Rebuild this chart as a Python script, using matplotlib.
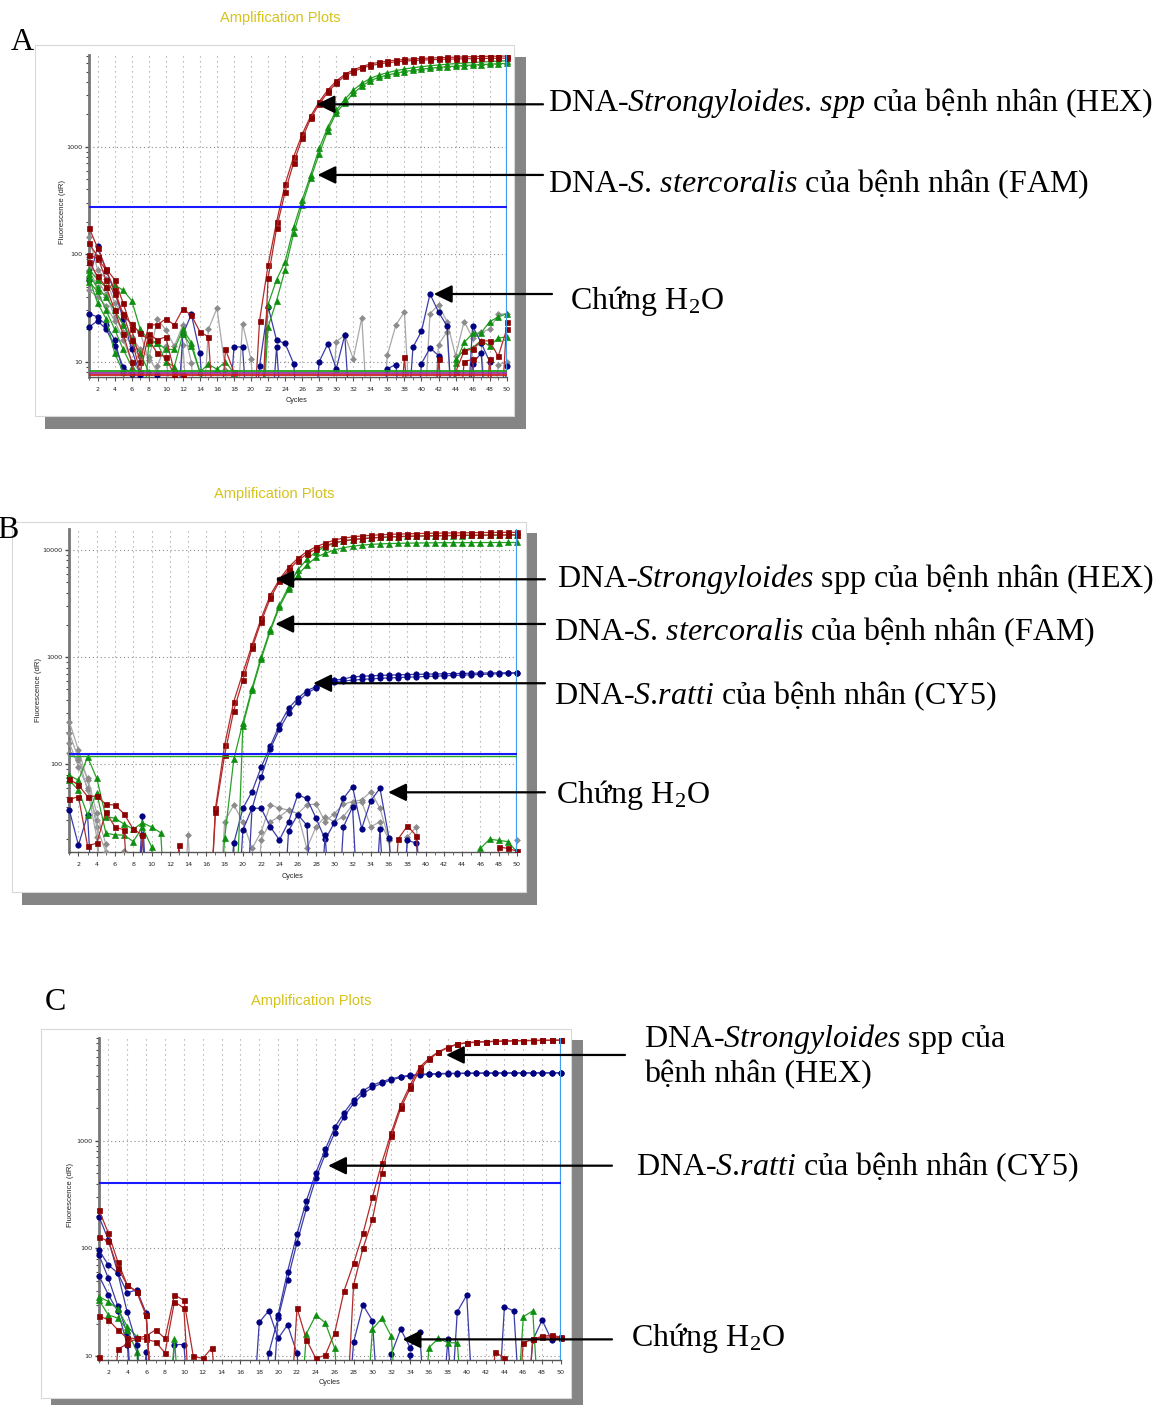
import numpy as np
import matplotlib
matplotlib.use("Agg")
import matplotlib.pyplot as plt
from matplotlib.patches import Rectangle
from matplotlib.ticker import LogLocator, NullFormatter, FixedLocator, FixedFormatter

plt.rcParams['mathtext.fontset'] = 'custom'
plt.rcParams['mathtext.rm'] = 'Liberation Serif'
plt.rcParams['mathtext.it'] = 'Liberation Serif:italic'
plt.rcParams['mathtext.bf'] = 'Liberation Serif:bold'

N = None  # point below the plotted range

CYCLES = list(range(1, 51))

# ---------------- Panel A ----------------
A_THRESHOLD = 273
A_BASELINES = [8.2, 7.8, 7.5]
A_HEX_1 = [176, 114, 73, 58, 35, 20, 10, 22, 22, 25,
           22, 31, 27, 19, 17, N, 13, 8, N, N,
           24, 79, 200, 447, 807, 1303, 1929, 2620, 3365, 4085,
           4710, 5170, 5560, 5880, 6090, 6260, 6380, 6480, 6560, 6620,
           6680, 6730, 6770, 6810, 6850, 6880, 6910, 6930, 6950, 6970]
A_HEX_2 = [126, 95, 57, 43, 28, 16, 8, 18, 16, 17,
           8, 7.5, N, N, N, N, N, N, N, N,
           N, 60, 174, 381, 710, 1196, 1834, 2500, 3200, 3900,
           4540, 4990, 5370, 5670, 5880, 6040, 6150, 6250, 6330, 6390,
           6440, 6480, 6520, 6550, 6580, 6600, 6620, 6640, 6650, 6660]
A_FAM_1 = [72, 58, 49, 52, 46, 37, 20, 16, 15, 13,
           13, 20, 15, 8, 9.5, 8.5, 10, 7.8, N, N,
           N, 34, 58, 85, 178, 319, 545, 964, 1512, 2190,
           2750, 3365, 3880, 4320, 4640, 4880, 5100, 5280, 5430, 5550,
           5660, 5760, 5850, 5930, 6000, 6070, 6130, 6190, 6250, 6310]
A_FAM_2 = [60, 35, 25, 12, 8, N, N, 15, 15, 10,
           9, 18, 14, 8, N, N, N, N, N, N,
           N, 21, 37, 72, 156, 288, 508, 860, 1409, 2070,
           2560, 3130, 3660, 4110, 4420, 4640, 4830, 5000, 5140, 5260,
           5370, 5460, 5550, 5620, 5690, 5750, 5810, 5860, 5910, 5960]
A_H2O_HEX_1 = [98, 91, 71, 46.5, 27, 22.5, 18.3, 16, 12, 11,
               7.5, N, N, N, N, N, N, N, N, N,
               N, N, N, N, N, N, N, N, N, N,
               N, N, N, N, N, N, N, 11, N, N,
               N, 10.5, N, 8, 12.5, 13.2, 15.6, 15.6, 11.2, 20]
A_H2O_HEX_2 = [85, 62, 50, 30, 18, 10, N, N, N, N,
               N, N, N, N, N, N, N, N, N, N,
               N, N, N, N, N, N, N, N, N, N,
               N, N, N, N, N, N, N, N, N, N,
               N, N, N, N, 10, 10.5, N, 10.5, N, 23.6]
A_H2O_FAM_1 = [65, 48, 40, 30, 22, 16, 12, 8, N, N,
               N, N, N, N, N, N, N, N, N, N,
               N, N, N, N, N, N, N, N, N, N,
               N, N, N, N, N, N, N, N, N, N,
               N, N, N, 9.7, 15.1, 18.3, 18.5, 23.6, 26, 28]
A_H2O_FAM_2 = [55, 45, 30, 20, 13, 9, N, N, N, N,
               N, N, N, N, N, N, N, N, N, N,
               N, N, N, N, N, N, N, N, N, N,
               N, N, N, N, N, N, N, N, N, N,
               N, N, N, 10.5, 12.8, 13.5, 15.7, 14, 16.6, 17]
A_H2O_CY5_1 = [57, 119, 70, 45, 25, 13, 7.5, N, 7.5, N,
               N, 18, 27.5, 12, N, N, N, 13.7, 13.7, N,
               9.1, 32.5, 15.8, 14.8, 9.6, N, N, 10, 14.6, 8.6,
               17.7, N, N, N, N, 8.6, 9.4, N, 13.6, 19.2,
               42.6, 29, 21.4, N, N, 21.4, 15, 10, N, 9.1]
A_H2O_CY5_2 = [28, 26, 22, 16, 8, N, N, N, N, N,
               N, N, N, N, N, N, N, N, N, N,
               N, N, 13.8, N, N, N, N, N, N, N,
               N, N, N, N, N, N, N, N, N, 9.6,
               13.4, 11.4, N, N, N, 9.6, 12, N, N, N]
A_H2O_CY5_3 = [21, 24, 20, 14, 9, 7.6, N, N, N, N,
               N, N, N, N, N, N, N, N, N, N,
               N, N, N, N, N, N, N, N, N, N,
               N, N, N, N, N, N, N, N, N, N,
               N, N, N, N, N, N, N, N, N, N]
A_ROX_1 = [145, 71, 59, 35, 28, 22, 18.6, 10.4, 24.8, 19.8,
           13.9, 22, 9.8, N, 20, 31.4, 8.4, N, 22.6, 10.5,
           N, N, N, N, N, N, N, N, N, 15.3,
           17.7, 10.6, 25.7, N, N, 11.5, 22, 29, N, N,
           28, 33.6, 23.6, 11.3, 23.6, 16.7, 18.7, 20, 27.5, 28]
A_ROX_2 = [95, 57, 43, 26, 19, 14, 11, N, 9.2, 14,
           N, 14.4, N, N, N, N, N, N, N, N,
           N, N, N, N, N, N, N, N, N, N,
           N, N, N, N, N, N, N, N, N, N,
           N, 14.4, 19, N, N, 13, 15, N, 9.3, 10]
A_ROX_3 = [71, 50, 40, 30, 22, 17, 13, 11, 8, N,
           N, N, N, N, N, N, N, N, N, N,
           N, N, N, N, N, N, N, N, N, N,
           N, N, N, N, N, N, N, N, N, N,
           N, N, N, N, N, N, N, N, N, N]
A_ROX_4 = [46, 40, 33, 24, 16, 10, 8, N, N, N,
           N, N, N, N, N, N, N, N, N, N,
           N, N, N, N, N, N, N, N, N, N,
           N, N, N, N, N, N, N, N, N, N,
           N, N, N, N, N, N, N, N, N, N]

# ---------------- Panel B ----------------
B_THRESHOLD = 124
B_THRESHOLD_FAM = 119.5
B_HEX_1 = [73, 64, 50, 50.6, 42.3, 41.7, 34.4, 24.9, 21.9, N,
           N, N, 17.6, N, N, N, 38.8, 151, 385, 716,
           1300, 2300, 3800, 5320, 6890, 8360, 9650, 10740, 11540, 12400,
           12900, 13250, 13500, 13700, 13850, 13980, 14080, 14160, 14230, 14290,
           14340, 14390, 14430, 14470, 14510, 14540, 14570, 14590, 14610, 14620]
B_HEX_2 = [47, 50, 17.3, 18.4, 36, 26, 24.4, N, N, N,
           N, N, N, N, N, N, 36, 122, 317, 612,
           1210, 2150, 3540, 5100, 6500, 7950, 9180, 10220, 10960, 11700,
           12150, 12500, 12750, 12950, 13100, 13230, 13330, 13420, 13490, 13550,
           13600, 13640, 13680, 13710, 13740, 13760, 13780, 13790, 13800, 13800]
B_FAM_1 = [79, 71, 117, 74, 32.5, 31.4, 27.7, 24.8, 28.5, 26,
           23, N, N, N, N, N, N, 20.4, 111, 245,
           512, 1010, 1820, 3070, 4550, 6500, 8180, 9650, 10740, 11540,
           12140, 12500, 12750, 12950, 13100, 13220, 13320, 13400, 13460, 13510,
           13550, 13590, 13620, 13650, 13680, 13710, 13740, 13760, 13780, 13800]
B_FAM_2 = [71, 57.6, 33.7, 54, 22.9, 21.9, 21.9, 19, 26, 17,
           N, N, N, N, N, N, N, N, N, 230,
           490, 960, 1750, 2950, 4300, 5850, 7240, 8540, 9310, 10000,
           10500, 10850, 11100, 11280, 11400, 11480, 11540, 11590, 11620, 11650,
           11670, 11690, 11700, 11710, 11720, 11730, 11740, 11740, 11750, 11750]
B_CY5_1 = [37.5, 17.6, 33.7, N, N, N, N, N, 33, N,
           N, N, N, N, N, N, N, N, 18.3, 38.8,
           55.6, 94, 148, 233, 334, 412, 488, 530, 580, 612,
           625, 655, 662, 670, 675, 680, 684, 688, 691, 694,
           697, 700, 703, 705, 708, 710, 712, 714, 715, 716]
B_CY5_2 = [N, N, N, N, N, N, N, N, 21.9, N,
           N, N, N, N, N, N, N, N, N, 24.5,
           38.8, 76, 139, 213, 300, 385, 460, 515, 560, 590,
           600, 610, 620, 628, 635, 640, 645, 650, 655, 660,
           665, 670, 675, 680, 685, 690, 695, 700, 705, 710]
B_H2O_CY5_1 = [N, N, N, N, N, N, N, N, N, N,
               N, N, N, N, N, N, N, N, N, N,
               38.9, 38.9, 26.1, 19.7, 29.1, 51.8, 48, 31.5, 19.9, 28.3,
               48, 62, 25.1, 45.8, 59.8, 20.4, N, 19.5, 18.4, N,
               N, N, N, N, N, N, N, N, N, N]
B_H2O_CY5_2 = [N, N, N, N, N, N, N, N, N, N,
               N, N, N, N, N, N, N, N, N, N,
               N, N, N, N, 24, 34, 27, N, 22, N,
               26, 40, N, N, 25, N, N, N, N, N,
               N, N, N, N, N, N, N, N, N, N]
B_H2O_HEX_1 = [N, N, N, N, N, N, N, N, N, N,
               N, N, N, N, N, N, N, N, N, N,
               N, N, N, N, N, N, N, N, N, N,
               N, N, N, N, N, N, 20.1, 26.6, 21.5, N,
               N, N, N, N, N, N, N, 17, 16.4, 15.5]
B_H2O_FAM_1 = [N, N, N, N, N, N, N, N, N, N,
               N, N, N, N, N, N, N, N, N, N,
               N, N, N, N, N, N, N, N, N, N,
               N, N, N, N, N, N, N, N, N, N,
               N, N, N, N, N, 16.4, 20, 19.5, 19, 15.2]
B_ROX_1 = [250, 136, 71, 26, 15.3, N, N, N, N, N,
           N, N, N, 21.7, N, N, N, 29.1, 41.8, 29.1,
           16.4, 23.4, 41.8, 38.9, 37.5, 34.6, 41.8, 42.5, 29.1, 34.6,
           42.5, 44.9, 46.5, 55.6, 38.9, 19.7, N, 21, 26.1, N,
           N, N, N, N, N, N, N, N, N, 19.7]
B_ROX_2 = [196, 114, 57.6, 21, N, N, N, N, N, N,
           N, N, N, N, N, N, N, N, 19, N,
           N, 19.7, 29.1, 32.5, 37.5, 34.6, 16.4, 26.1, 32.5, 29.1,
           32.5, 41.8, 44.9, 26.1, 29.1, 19.7, N, N, N, N,
           N, N, N, N, N, N, N, N, N, N]
B_ROX_3 = [159, 95, 60, 30, N, N, 15.5, N, N, N,
           N, N, N, N, N, N, N, N, N, N,
           N, N, N, N, N, N, N, N, N, N,
           N, N, N, N, N, N, N, N, N, N,
           N, N, N, N, N, N, N, N, N, N]
B_ROX_4 = [127, 110, 75, 35, 18, N, N, N, N, N,
           N, N, N, N, N, N, N, N, N, N,
           N, N, N, N, N, N, N, N, N, N,
           N, N, N, N, N, N, N, N, N, N,
           N, N, N, N, N, N, N, N, N, N]

# ---------------- Panel C ----------------
C_THRESHOLD = 402
C_HEX_1 = [227, 138, 75, 45.6, 39.7, 24, N, N, N, N,
           N, N, N, N, N, N, N, N, N, N,
           N, 28, 14.2, 9.5, 10.2, 16.5, 40.5, 72.6, 138, 298,
           625, 1186, 2140, 3280, 4800, 5810, 6700, 7370, 7910, 8140,
           8240, 8320, 8380, 8430, 8470, 8510, 8540, 8560, 8580, 8600]
C_HEX_2 = [128, 116, 65.6, 45.6, 39.7, 24, N, N, N, N,
           N, N, N, N, N, N, N, N, N, N,
           N, N, N, N, N, N, N, 45.8, 100, 186,
           505, 1105, 2000, 3060, 4530, 5700, 6600, 7300, 7850, 8080,
           8200, 8280, 8340, 8390, 8430, 8470, 8500, 8520, 8540, 8550]
C_CY5_1 = [197, 120, 59, 38.6, 41.3, 25, N, N, N, N,
           N, N, N, N, N, N, N, N, 10.6, 22.5,
           51, 113, 235, 447, 752, 1186, 1670, 2220, 2710, 3130,
           3410, 3660, 3870, 4000, 4080, 4130, 4160, 4180, 4200, 4210,
           4220, 4230, 4230, 4240, 4240, 4240, 4250, 4250, 4250, 4250]
C_CY5_2 = [96, 70, 59, 25.4, 12.8, N, N, N, N, N,
           N, N, N, N, N, N, N, N, N, 24.2,
           61, 136, 277, 505, 831, 1330, 1820, 2390, 2910, 3280,
           3530, 3760, 3930, 4060, 4130, 4170, 4200, 4220, 4230, 4240,
           4250, 4250, 4260, 4260, 4270, 4270, 4270, 4280, 4280, 4280]
C_H2O_HEX_1 = [23.6, 21.7, 17.5, 14.6, 14.6, 15.4, 17.5, 14.6, 37, 33,
               10, 9.5, 12, N, N, N, N, N, N, N,
               N, N, N, N, N, N, N, N, N, N,
               N, N, N, N, N, N, N, N, N, N,
               N, N, 10.8, 9.7, N, 13.3, 14.3, 15.3, 15.6, 15]
C_H2O_HEX_2 = [9.9, N, 11.6, 13, 14.6, 14.3, 13.6, 10.7, 32, 27.9,
               N, N, N, N, N, N, N, N, N, N,
               N, N, N, N, N, N, N, N, N, N,
               N, N, N, N, N, N, N, N, N, N,
               N, N, N, N, N, N, 14.3, 15, 15, 14.8]
C_H2O_CY5_1 = [87, 52.6, 29, 16.3, N, N, N, N, 12.8, 12.8,
               N, N, N, N, N, N, N, 20.6, 26.3, 14.6,
               19.5, 10.6, N, N, N, N, N, 13.4, 29.8, 21.3,
               N, 10.4, 17.8, 12, 16.6, N, N, 14.3, N, N,
               N, N, N, N, N, N, N, N, N, N]
C_H2O_CY5_2 = [55.6, 37, 26, 12.8, N, 10.8, N, N, N, N,
               N, N, N, N, N, N, N, N, N, N,
               N, N, N, N, N, N, N, N, N, N,
               N, N, N, 10.2, N, N, N, N, 25.8, 36.8,
               N, N, N, 28.7, 26.2, N, 14, 21.6, 14.1, 14.8]
C_H2O_FAM_1 = [35.7, 32, 27.4, 18.8, 15.2, N, N, N, 14.3, N,
               N, N, N, N, N, N, N, N, N, N,
               N, N, 16.2, 24, 20.4, 11.8, N, N, N, 17.8,
               22.4, 15.3, N, N, N, 12, 14.6, 13.3, 13.3, N,
               N, N, N, N, N, 23.2, 26.3, N, N, N]
C_H2O_FAM_2 = [33, 24, 22.6, 17.5, 11, N, N, N, N, N,
               N, N, N, N, N, N, N, N, N, N,
               N, N, N, N, N, N, N, N, N, N,
               N, N, N, N, N, N, N, N, N, N,
               N, N, N, N, N, N, N, N, N, N]

# ---------------- layout / drawing ----------------
W, H = 1169, 1405
fig = plt.figure(figsize=(W / 100, H / 100), dpi=100)
LOW = 1.0

STYLES = {
    'hex': dict(lc='#b32a2a', m='s', ms=3.6, mc='#8b0000', z=5),
    'fam': dict(lc='#27a027', m='^', ms=4.2, mc='#0f8f0f', z=4),
    'cy5': dict(lc='#3c3ca8', m='o', ms=3.9, mc='#000080', z=4),
    'rox': dict(lc='#a8a8a8', m='D', ms=3.0, mc='#8c8c8c', z=3),
}
SERIF = ['Liberation Serif', 'DejaVu Serif']
SANS = ['Liberation Sans', 'DejaVu Sans']


def fx(x):
    return x / W


def fy(y):
    return 1 - y / H


def rect(x0, y0, x1, y1, **kw):
    r = Rectangle((fx(x0), fy(y1)), (x1 - x0) / W, (y1 - y0) / H,
                  transform=fig.transFigure, **kw)
    fig.add_artist(r)


def make_panel(box, ylim, card, shadow, title_xy, letter, ylab_xy, cyc_xy, majors):
    rect(*shadow, facecolor='#858585', edgecolor='none', zorder=-3)
    rect(*card, facecolor='white', edgecolor='#d8d8d8', lw=0.8, zorder=-2)
    fig.text(fx(title_xy[0]), fy(title_xy[1]), 'Amplification Plots', color='#d6c31a',
             fontsize=10.5, family=SANS, ha='center', va='center')
    fig.text(fx(letter[1]), fy(letter[2]), letter[0], fontsize=23, family=SERIF,
             ha='center', va='center')
    x0, y0, x1, y1 = box
    ax = fig.add_axes([fx(x0), fy(y1), (x1 - x0) / W, (y1 - y0) / H])
    ax.set_facecolor('none')
    ax.set_yscale('log')
    ax.set_xlim(1, 50)
    ax.set_ylim(*ylim)
    ax.set_xticks(range(2, 51, 2))
    ax.set_xticks(range(1, 51), minor=True)
    ax.tick_params(axis='x', which='major', labelsize=4.6, length=3, width=0.8,
                   color='#555555', pad=4, labelcolor='#222222')
    ax.tick_params(axis='x', which='minor', length=2, width=0.6, color='#555555')
    ax.yaxis.set_major_locator(FixedLocator(majors))
    ax.yaxis.set_major_formatter(FixedFormatter([str(int(m)) for m in majors]))
    ax.yaxis.set_minor_locator(LogLocator(base=10, subs=np.arange(2, 10)))
    ax.yaxis.set_minor_formatter(NullFormatter())
    ax.tick_params(axis='y', which='major', labelsize=4.6, length=3, width=1.0,
                   color='#444444', pad=2, labelcolor='#222222')
    ax.tick_params(axis='y', which='minor', length=2, width=0.8, color='#444444')
    for s in ('top', 'right'):
        ax.spines[s].set_visible(False)
    ax.spines['left'].set_color('#777777')
    ax.spines['left'].set_linewidth(2.0)
    ax.spines['bottom'].set_color('#555555')
    ax.spines['bottom'].set_linewidth(1.0)
    for c in range(2, 50, 2):
        ax.axvline(c, color='#9a9a9a', lw=0.8, ls=(0, (1, 3.5)), zorder=1)
    for m in majors:
        ax.axhline(m, color='#8a8a8a', lw=0.8, ls=(0, (1, 2.5)), zorder=1)
    ax.axvline(50, color='#3d9df0', lw=1.6, zorder=6)
    fig.text(fx(ylab_xy[0]), fy(ylab_xy[1]), 'Fluorescence (dR)', rotation=90,
             fontsize=5.6, family=SANS, ha='center', va='center', color='#222222')
    fig.text(fx(cyc_xy[0]), fy(cyc_xy[1]), 'Cycles', fontsize=5.2, family=SANS,
             ha='center', va='center', color='#222222')
    clip = Rectangle((-0.015, 0), 1.03, 1.0, transform=ax.transAxes)
    ax._clip = clip
    return ax


def trace(ax, vals, kind):
    st = STYLES[kind]
    y = np.array([LOW if v is None else v for v in vals], dtype=float)
    ln, = ax.plot(CYCLES, y, color=st['lc'], lw=0.9, marker=st['m'], ms=st['ms'],
                  mfc=st['mc'], mec=st['mc'], mew=0.5, zorder=st['z'])
    ln.set_clip_path(ax._clip)


def arrow(ax, tip, start_px):
    ax.annotate('', xy=tip, xycoords='data', xytext=(fx(start_px), tip[1]),
                textcoords=('figure fraction', 'data'),
                arrowprops=dict(arrowstyle='-|>,head_length=0.55,head_width=0.27',
                                mutation_scale=20, lw=1.6, color='black',
                                shrinkA=0, shrinkB=0),
                annotation_clip=False, zorder=10)


def label(x, y, s):
    fig.text(fx(x), fy(y + 3), s, fontsize=23, family=SERIF, ha='left', va='center')


# Panel A
axA = make_panel((89.1, 55, 506.7, 377), (7.2, 7130), (35, 45, 514, 416), (45, 57, 526, 429),
                 (280, 18), ('A', 22, 42), (63, 212), (297, 401), [10, 100, 1000])
axA.axhline(A_THRESHOLD, color='#1a1aff', lw=1.5, zorder=6)
for v, c in zip(A_BASELINES, ['#1fa01f', '#a030a0', '#cc2020']):
    axA.axhline(v, color=c, lw=1.3, zorder=6)
for s in (A_ROX_1, A_ROX_2, A_ROX_3, A_ROX_4):
    trace(axA, s, 'rox')
for s in (A_H2O_CY5_1, A_H2O_CY5_2, A_H2O_CY5_3):
    trace(axA, s, 'cy5')
for s in (A_H2O_FAM_1, A_H2O_FAM_2):
    trace(axA, s, 'fam')
for s in (A_H2O_HEX_1, A_H2O_HEX_2):
    trace(axA, s, 'hex')
for s in (A_FAM_1, A_FAM_2):
    trace(axA, s, 'fam')
for s in (A_HEX_1, A_HEX_2):
    trace(axA, s, 'hex')
arrow(axA, (27.7, 2480), 543)
arrow(axA, (27.8, 546), 543)
arrow(axA, (41.45, 42.6), 552)
label(548, 100, r'DNA-$\mathit{Strongyloides}$. $\mathit{spp}$ của bệnh nhân (HEX)')
label(548, 181, r'DNA-$\mathit{S}$. $\mathit{stercoralis}$ của bệnh nhân (FAM)')
label(570, 298, r'Chứng H$_2$O')

# Panel B
axB = make_panel((69.3, 529.3, 517, 852.3), (15.1, 15600), (12, 522, 526, 892), (22, 533, 537, 905),
                 (274, 494), ('B', 8, 530), (38, 690), (292, 876), [100, 1000, 10000])
axB.axhline(B_THRESHOLD_FAM, color='#22aa22', lw=1.0, zorder=6)
axB.axhline(B_THRESHOLD, color='#1a1aff', lw=1.5, zorder=6)
for s in (B_ROX_1, B_ROX_2, B_ROX_3, B_ROX_4):
    trace(axB, s, 'rox')
for s in (B_H2O_CY5_1, B_H2O_CY5_2):
    trace(axB, s, 'cy5')
trace(axB, B_H2O_FAM_1, 'fam')
trace(axB, B_H2O_HEX_1, 'hex')
for s in (B_CY5_1, B_CY5_2):
    trace(axB, s, 'cy5')
for s in (B_FAM_1, B_FAM_2):
    trace(axB, s, 'fam')
for s in (B_HEX_1, B_HEX_2):
    trace(axB, s, 'hex')
arrow(axB, (23.55, 5330), 545)
arrow(axB, (23.55, 2040), 545)
arrow(axB, (27.7, 571), 545)
arrow(axB, (35.9, 54.8), 545)
label(557, 576, r'DNA-$\mathit{Strongyloides}$ spp của bệnh nhân (HEX)')
label(554, 629, r'DNA-$\mathit{S}$. $\mathit{stercoralis}$ của bệnh nhân (FAM)')
label(554, 693, r'DNA-$\mathit{S}$.$\mathit{ratti}$ của bệnh nhân (CY5)')
label(556, 792, r'Chứng H$_2$O')

# Panel C
axC = make_panel((99, 1037.7, 561, 1360), (9.2, 9040), (41, 1029, 571, 1398), (51, 1040, 583, 1405),
                 (311, 1001), ('C', 55, 1003), (71, 1195), (330, 1383), [10, 100, 1000])
axC.axhline(C_THRESHOLD, color='#1a1aff', lw=1.5, zorder=6)
for s in (C_H2O_CY5_1, C_H2O_CY5_2):
    trace(axC, s, 'cy5')
for s in (C_H2O_FAM_1, C_H2O_FAM_2):
    trace(axC, s, 'fam')
for s in (C_H2O_HEX_1, C_H2O_HEX_2):
    trace(axC, s, 'hex')
for s in (C_CY5_1, C_CY5_2):
    trace(axC, s, 'cy5')
for s in (C_HEX_1, C_HEX_2):
    trace(axC, s, 'hex')
arrow(axC, (37.8, 6250), 625)
arrow(axC, (25.3, 586), 612)
arrow(axC, (33.2, 14.3), 612)
label(644, 1036, r'DNA-$\mathit{Strongyloides}$ spp của')
label(644, 1072, r'bệnh nhân (HEX)')
label(636, 1164, r'DNA-$\mathit{S}$.$\mathit{ratti}$ của bệnh nhân (CY5)')
label(631, 1335, r'Chứng H$_2$O')

fig.savefig('out.png', dpi=100)
